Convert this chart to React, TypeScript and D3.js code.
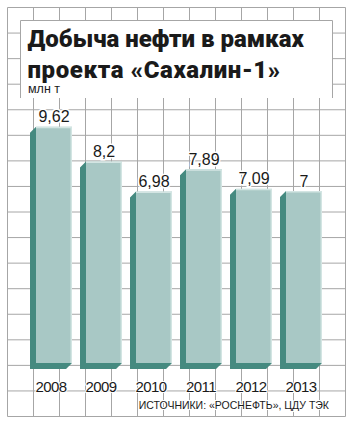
import React from "react";
import * as d3 from "d3";

const years = ["2008", "2009", "2010", "2011", "2012", "2013"];
const values = [9.62, 8.2, 6.98, 7.89, 7.09, 7];
const valueLabels = ["9,62", "8,2", "6,98", "7,89", "7,09", "7"];
const titleLines = ["Добыча нефти в рамках", "проекта «Сахалин-1»"];
const unitLabel = "млн т";
const sourceLabel = "ИСТОЧНИКИ: «РОСНЕФТЬ», ЦДУ ТЭК";
const gridCols = d3.range(14);
const gridRows = d3.range(17);

const W = 354;
const H = 426;
const DEPTH = 6;
const FRONT = "#a8c8c5";
const DARK = "#458a80";
const GRID = "#a6a6a6";

export default function App() {
  const x = d3
    .scaleBand<string>()
    .domain(years)
    .range([26, 326])
    .paddingInner(0.16)
    .paddingOuter(0.08);
  const y = d3.scaleLinear().domain([0, 10]).range([363, 117.4]);
  const gx = d3.scaleLinear().domain([0, 13]).range([7.5, 345.5]);
  const gy = d3.scaleLinear().domain([0, 16]).range([7.5, 416.5]);
  const base = y(0);
  const bw = x.bandwidth();

  return (
    <svg
      width={W}
      height={H}
      style={{ position: "absolute", left: 0, top: 0, background: "#fff" }}
    >
      <rect x={0} y={0} width={W} height={H} fill="#fff" />
      <g stroke={GRID} strokeWidth={1}>
        {gridCols.map((c) => (
          <line key={"c" + c} x1={gx(c)} x2={gx(c)} y1={gy(0)} y2={gy(16)} />
        ))}
        {gridRows.map((r) => (
          <line key={"r" + r} x1={gx(0)} x2={gx(13)} y1={gy(r)} y2={gy(r)} />
        ))}
      </g>
      <rect x={20} y={20} width={313} height={78} fill="#fff" />
      <path d="M20.5,98 V20.5 H332.5 V98" fill="none" stroke={GRID} strokeWidth={1} />
      <g
        fontFamily="Roboto, 'DejaVu Sans', sans-serif"
        fontWeight={900}
        fontSize={24}
        fill="#1a1a1a"
      >
        <text x={27.5} y={47}>{titleLines[0]}</text>
        <text x={27.5} y={77.5} letterSpacing={0.6}>{titleLines[1]}</text>
      </g>
      <text
        x={28}
        y={93}
        fontFamily="'Liberation Sans', Arial, sans-serif"
        fontSize={12.5}
        fill="#1a1a1a"
      >
        {unitLabel}
      </text>

      {years.map((yr, i) => {
        const x0 = x(yr)!;
        const top = y(values[i]);
        const fx0 = x0 + DEPTH;
        const fx1 = x0 + bw;
        const dark = `M${fx0},${top} L${x0},${top + DEPTH} L${x0},${base + DEPTH} L${fx1 - DEPTH},${base + DEPTH} L${fx1},${base} L${fx0},${base} Z`;
        return (
          <g key={yr}>
            <path d={dark} fill={DARK} />
            <rect x={fx0} y={top} width={fx1 - fx0} height={base - top} fill={FRONT} />
            <path
              d={`M${fx0},${top + 0.75} H${fx1 - 0.75} V${base}`}
              fill="none"
              stroke="#d3e5e3"
              strokeWidth={1.5}
            />
            <text
              x={(fx0 + fx1) / 2}
              y={top - 4.5}
              textAnchor="middle"
              fontFamily="'Liberation Sans', Arial, sans-serif"
              fontSize={16}
              fill="#1a1a1a"
              stroke="#fff"
              strokeWidth={3}
              paintOrder="stroke"
            >
              {valueLabels[i]}
            </text>
            <text
              x={x0 + bw / 2}
              y={391.5}
              textAnchor="middle"
              fontFamily="'Liberation Sans', Arial, sans-serif"
              fontSize={15}
              letterSpacing={-0.6}
              fill="#1a1a1a"
              stroke="#fff"
              strokeWidth={2}
              paintOrder="stroke"
            >
              {yr}
            </text>
          </g>
        );
      })}
      <text
        x={329}
        y={408.5}
        textAnchor="end"
        fontFamily="'Liberation Sans', Arial, sans-serif"
        fontSize={10.5}
        fill="#1a1a1a"
        stroke="#fff"
        strokeWidth={2}
        paintOrder="stroke"
      >
        {sourceLabel}
      </text>
    </svg>
  );
}
